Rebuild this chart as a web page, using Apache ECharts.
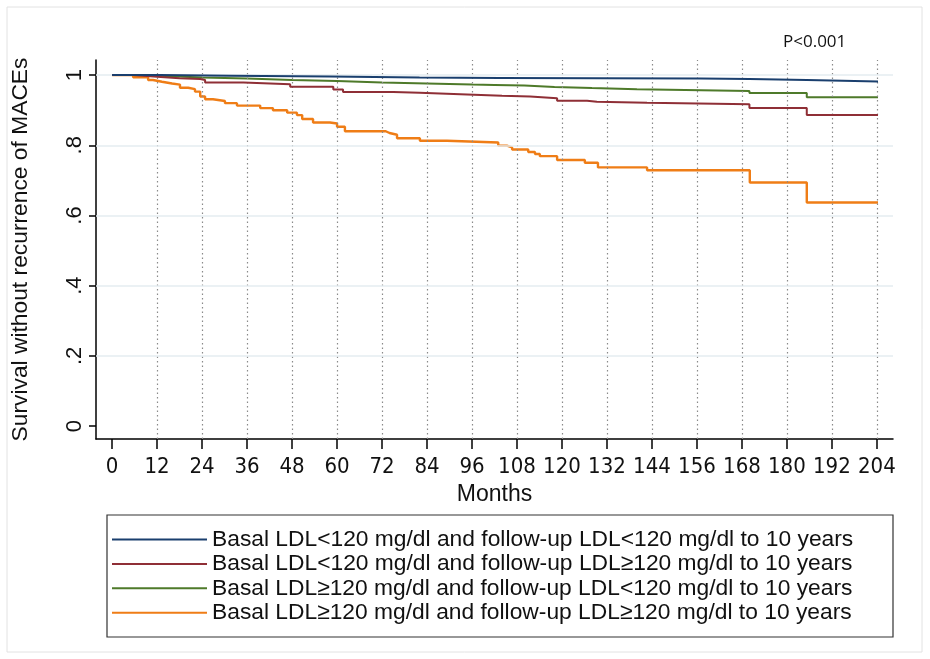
<!DOCTYPE html>
<html>
<head>
<meta charset="utf-8">
<script src="https://cdn.jsdelivr.net/npm/echarts@6/dist/echarts.min.js"></script>
<style>
  html, body { margin: 0; padding: 0; background: #fff; }
  #chart { width: 930px; height: 659px; }
</style>
</head>
<body>
<div id="chart"></div>
<script>
// tick labels
const xTicks = [0, 12, 24, 36, 48, 60, 72, 84, 96, 108, 120, 132, 144, 156, 168, 180, 192, 204];
const yTicks = [0, 0.2, 0.4, 0.6, 0.8, 1];
const yGrid = [0.2, 0.4, 0.6, 0.8, 1];

const groupNames = [
  'Basal LDL<120 mg/dl and follow-up LDL<120 mg/dl to 10 years',
  'Basal LDL<120 mg/dl and follow-up LDL\u2265120 mg/dl to 10 years',
  'Basal LDL\u2265120 mg/dl and follow-up LDL<120 mg/dl to 10 years',
  'Basal LDL\u2265120 mg/dl and follow-up LDL\u2265120 mg/dl to 10 years'
];
const groupColors = ['#1a3f6e', '#8f2f36', '#4e7a2a', '#ef7d16'];

// [month, survival]
const lowLow = [[0,1],[12.8,0.998],[31.5,0.996],[58,0.993],[82,0.992],[103.5,0.991],[130,0.99],
  [157,0.989],[170,0.986],[185.3,0.982],[204.3,0.982]];
const lowHigh = [[0,1],[5.6,0.995],[12,0.991],[18,0.989],[23.5,0.986],[24.8,0.979],[35,0.974],
  [47.5,0.967],[59,0.959],[61.6,0.952],[75,0.95],[82,0.945],[94.7,0.941],[104,0.939],[111.5,0.934],
  [118.7,0.927],[126.7,0.924],[129.3,0.921],[142.7,0.917],[170,0.906],[185.3,0.886],[204.3,0.886]];
const highLow = [[0,1],[8,0.997],[16,0.993],[24,0.99],[36,0.986],[48,0.983],[60,0.979],[72,0.976],
  [84,0.973],[96,0.972],[102,0.97],[110,0.966],[118,0.963],[128,0.96],[140,0.955],[170,0.949],
  [185.3,0.937],[204.3,0.937]];
const highHigh = [[0,1],[5.6,0.994],[9.6,0.986],[10.9,0.981],[13.3,0.976],[16,0.973],[18.1,0.964],
  [20.3,0.96],[22.1,0.953],[23.5,0.939],[24.8,0.931],[26.9,0.926],[30.1,0.92],[33.3,0.913],
  [39.5,0.906],[42.9,0.9],[46.7,0.893],[49.3,0.886],[50.7,0.875],[53.6,0.865],[58.1,0.862],
  [60,0.853],[62.1,0.84],[73,0.835],[74,0.83],[76,0.82],[82.1,0.813],[89.3,0.808],[103,0.799],
  [105.3,0.794],[106.7,0.788],[111,0.781],[112.8,0.775],[114.1,0.769],[118.7,0.758],[126.1,0.75],
  [129.6,0.737],[142.7,0.729],[170.1,0.694],[185.3,0.637],[204.3,0.637]];

const groupData = [lowLow, lowHigh, highLow, highHigh];

const chart = echarts.init(document.getElementById('chart'));

const font = 'Liberation Sans, Arial, sans-serif';

const curves = groupData.map((d, i) => ({
  name: groupNames[i],
  type: 'line',
  step: 'end',
  data: d,
  symbol: 'none',
  z: 3 + (3 - i),
  lineStyle: { color: groupColors[i], width: i === 3 ? 2.4 : 2 },
  itemStyle: { color: groupColors[i] }
}));

// dotted verticals at month ticks, light horizontals at y ticks
const gridLines = {
  type: 'line',
  data: [],
  silent: true,
  z: 1,
  markLine: {
    symbol: 'none',
    silent: true,
    animation: false,
    label: { show: false },
    data: xTicks.filter(v => v > 0).map(v => ({
      xAxis: v,
      lineStyle: { color: '#8a8a8a', width: 1.2, type: [1.5, 3] }
    })).concat(yGrid.map(v => ({
      yAxis: v,
      lineStyle: { color: '#e4edf0', width: 1.5, type: 'solid' }
    })))
  }
};

chart.setOption({
  animation: false,
  backgroundColor: '#fff',
  textStyle: { fontFamily: font },
  grid: { left: 96, top: 60, width: 797, height: 379 },
  xAxis: {
    type: 'value',
    min: -4.3,
    max: 208.3,
    name: 'Months',
    nameLocation: 'middle',
    nameGap: 40,
    nameTextStyle: { fontSize: 23, color: '#111', fontFamily: font },
    axisLine: { onZero: false, lineStyle: { color: '#000', width: 1.5 } },
    axisTick: { customValues: xTicks, length: 10, lineStyle: { color: '#000', width: 1.5 } },
    axisLabel: { customValues: xTicks, margin: 17, fontSize: 22, color: '#111', fontFamily: 'DejaVu Sans Condensed, DejaVu Sans' },
    splitLine: { show: false }
  },
  yAxis: {
    type: 'value',
    min: -0.037,
    max: 1.043,
    name: 'Survival without recurrence of MACEs',
    nameLocation: 'middle',
    nameGap: 64,
    nameTextStyle: { fontSize: 22.8, color: '#111', fontFamily: font },
    axisLine: { onZero: false, lineStyle: { color: '#000', width: 1.5 } },
    axisTick: { customValues: yTicks, length: 7, lineStyle: { color: '#000', width: 1.5 } },
    axisLabel: {
      customValues: yTicks,
      rotate: 90,
      margin: 10,
      fontSize: 22,
      color: '#111',
      formatter: v => (v === 0 || v === 1) ? String(v) : String(+v.toFixed(1)).replace('0.', '.')
    },
    splitLine: { show: false }
  },
  legend: {
    data: groupNames,
    orient: 'vertical',
    left: 112,
    top: 528,
    itemWidth: 95,
    itemHeight: 2,
    itemGap: 1.4,
    icon: 'rect',
    padding: 0,
    textStyle: { fontSize: 22.8, lineHeight: 23, color: '#111', fontFamily: font }
  },
  graphic: [
    {
      type: 'rect',
      shape: { x: 7, y: 7, width: 915, height: 645 },
      style: { fill: 'none', stroke: '#e2e2e2', lineWidth: 1 },
      silent: true
    },
    {
      type: 'rect',
      shape: { x: 107, y: 515, width: 786, height: 122 },
      style: { fill: 'none', stroke: '#333', lineWidth: 1.2 },
      silent: true
    },
    {
      type: 'text',
      left: 783,
      top: 34,
      style: { text: 'P<0.001', fontSize: 17, fill: '#111', fontFamily: 'Open Sans, sans-serif' }
    }
  ],
  series: [gridLines].concat(curves)
});
</script>
</body>
</html>
